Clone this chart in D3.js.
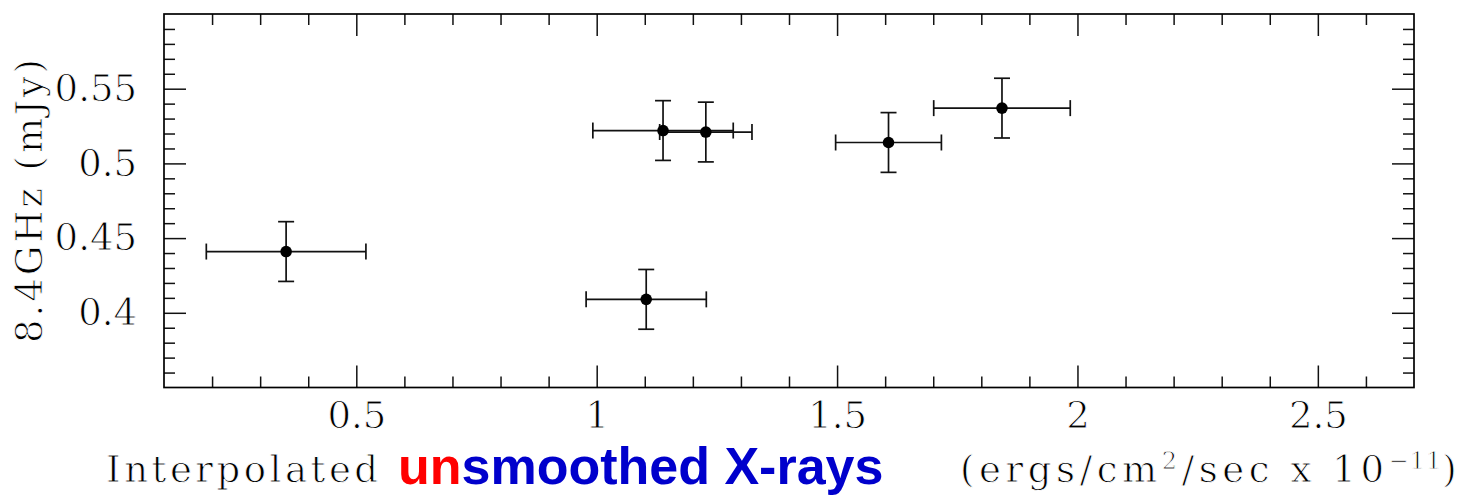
<!DOCTYPE html>
<html>
<head>
<meta charset="utf-8">
<script src="https://cdn.jsdelivr.net/npm/d3@7/dist/d3.min.js"></script>
<style>
  html, body { margin: 0; padding: 0; background: #fff; }
  svg { display: block; }
  .thin { stroke: #fff; stroke-width: 0.9px; paint-order: normal; }
</style>
</head>
<body>
<svg id="chart" width="1468" height="495"></svg>
<script>
// ---- data ----
const xFlux   = [0.354, 1.103, 1.138, 1.227, 1.607, 1.843];
const yRadio  = [0.441, 0.409, 0.522, 0.521, 0.514, 0.537];
const xErr    = [0.166, 0.125, 0.146, 0.096, 0.110, 0.142];
const yErr    = [0.020, 0.020, 0.020, 0.020, 0.020, 0.020];
const xMajorTicks = [0.5, 1, 1.5, 2, 2.5];
const xTickLabels = ["0.5", "1", "1.5", "2", "2.5"];
const yMajorTicks = [0.4, 0.45, 0.5, 0.55];
const yTickLabels = ["0.4", "0.45", "0.5", "0.55"];
const xDomain = [0.1, 2.7];
const yDomain = [0.35, 0.6];

const W = 1468, H = 495;
const m = { left: 164, right: 1414, top: 14, bottom: 387.5 };

const svg = d3.select("#chart");
const x = d3.scaleLinear().domain(xDomain).range([m.left, m.right]);
const y = d3.scaleLinear().domain(yDomain).range([m.bottom, m.top]);

const serif = "'DejaVu Serif', serif";
const ink = "#111";

const xMinor = d3.range(2, 27).map(d => d / 10).filter(v => !xMajorTicks.some(t => Math.abs(t - v) < 1e-6));
const yMinor = d3.range(36, 60).map(d => d / 100).filter(v => !yMajorTicks.some(t => Math.abs(t - v) < 1e-6));

function styleAxis(g) {
  g.select(".domain").remove();
  g.selectAll("line").attr("stroke", ink).attr("stroke-width", 1.5);
  g.selectAll("text").attr("font-family", serif).attr("font-size", 37).attr("fill", "#000")
    .attr("class", "thin");
}

// bottom major with labels
svg.append("g").attr("transform", `translate(0,${m.bottom})`)
  .call(d3.axisBottom(x).tickValues(xMajorTicks).tickSize(-22).tickPadding(14)
    .tickFormat((d, i) => xTickLabels[i]))
  .call(styleAxis);
// bottom minor
svg.append("g").attr("transform", `translate(0,${m.bottom})`)
  .call(d3.axisBottom(x).tickValues(xMinor).tickSize(-11).tickFormat(""))
  .call(styleAxis);
// top major/minor
svg.append("g").attr("transform", `translate(0,${m.top})`)
  .call(d3.axisTop(x).tickValues(xMajorTicks).tickSize(-22).tickFormat(""))
  .call(styleAxis);
svg.append("g").attr("transform", `translate(0,${m.top})`)
  .call(d3.axisTop(x).tickValues(xMinor).tickSize(-11).tickFormat(""))
  .call(styleAxis);
// left major with labels
svg.append("g").attr("transform", `translate(${m.left},0)`)
  .call(d3.axisLeft(y).tickValues(yMajorTicks).tickSize(-22).tickPadding(27)
    .tickFormat((d, i) => yTickLabels[i]))
  .call(styleAxis);
svg.append("g").attr("transform", `translate(${m.left},0)`)
  .call(d3.axisLeft(y).tickValues(yMinor).tickSize(-11).tickFormat(""))
  .call(styleAxis);
// right
svg.append("g").attr("transform", `translate(${m.right},0)`)
  .call(d3.axisRight(y).tickValues(yMajorTicks).tickSize(-22).tickFormat(""))
  .call(styleAxis);
svg.append("g").attr("transform", `translate(${m.right},0)`)
  .call(d3.axisRight(y).tickValues(yMinor).tickSize(-11).tickFormat(""))
  .call(styleAxis);

// frame
svg.append("rect")
  .attr("x", m.left).attr("y", m.top)
  .attr("width", m.right - m.left).attr("height", m.bottom - m.top)
  .attr("fill", "none").attr("stroke", "#000").attr("stroke-width", 1.7);

// data with error bars
const pts = xFlux.map((v, i) => ({ x: v, y: yRadio[i], ex: xErr[i], ey: yErr[i] }));
const cap = 8;
const eg = svg.append("g").attr("stroke", ink).attr("stroke-width", 1.7).attr("fill", "none");
pts.forEach(p => {
  const cx = x(p.x), cy = y(p.y);
  const x0 = x(p.x - p.ex), x1 = x(p.x + p.ex);
  const y0 = y(p.y - p.ey), y1 = y(p.y + p.ey);
  eg.append("line").attr("x1", x0).attr("x2", x1).attr("y1", cy).attr("y2", cy);
  eg.append("line").attr("x1", x0).attr("x2", x0).attr("y1", cy - cap).attr("y2", cy + cap);
  eg.append("line").attr("x1", x1).attr("x2", x1).attr("y1", cy - cap).attr("y2", cy + cap);
  eg.append("line").attr("x1", cx).attr("x2", cx).attr("y1", y0).attr("y2", y1);
  eg.append("line").attr("x1", cx - cap).attr("x2", cx + cap).attr("y1", y0).attr("y2", y0);
  eg.append("line").attr("x1", cx - cap).attr("x2", cx + cap).attr("y1", y1).attr("y2", y1);
});
svg.append("g").selectAll("circle").data(pts).join("circle")
  .attr("cx", d => x(d.x)).attr("cy", d => y(d.y)).attr("r", 5.8).attr("fill", "#000");

// y axis label
svg.append("text")
  .attr("class", "thin")
  .attr("transform", "translate(41.5,201) rotate(-90)")
  .attr("text-anchor", "middle")
  .attr("font-family", serif).attr("font-size", 37).attr("fill", "#000")
  .attr("textLength", 284).attr("lengthAdjust", "spacing")
  .text("8.4GHz (mJy)");

// x axis label pieces
svg.append("text")
  .attr("class", "thin")
  .attr("x", 106).attr("y", 482)
  .attr("font-family", serif).attr("font-size", 37).attr("fill", "#000")
  .attr("textLength", 272).attr("lengthAdjust", "spacing")
  .text("Interpolated");

const bold = svg.append("text")
  .attr("x", 398).attr("y", 484)
  .attr("font-family", "'Liberation Sans', Arial, sans-serif")
  .attr("font-weight", "bold").attr("font-size", 52);
bold.append("tspan").attr("fill", "#ff0000").text("un");
bold.append("tspan").attr("fill", "#0000cc").text("smoothed X-rays");

const unit = svg.append("text")
  .attr("class", "thin")
  .attr("x", 960).attr("y", 482)
  .attr("font-family", serif).attr("font-size", 37).attr("fill", "#000")
  .attr("letter-spacing", 4.6);
unit.append("tspan").text("(ergs/cm");
unit.append("tspan").attr("font-size", 24).attr("dy", -13).text("2");
unit.append("tspan").attr("dy", 13).text("/sec x 10");
unit.append("tspan").attr("font-size", 24).attr("dy", -13).attr("letter-spacing", 1).text("\u2212");
unit.append("tspan").attr("font-size", 24).attr("letter-spacing", 1).text("11");
unit.append("tspan").attr("dy", 13).text(")");
</script>
</body>
</html>
